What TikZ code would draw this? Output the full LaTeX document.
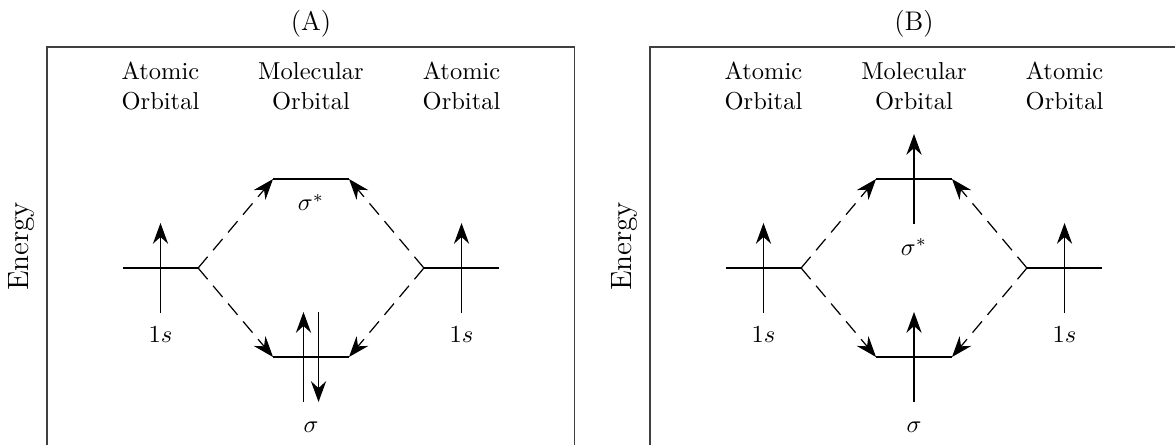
\documentclass[tikz,border=0pt]{standalone}
\usetikzlibrary{arrows.meta}

\begin{document}
\begin{tikzpicture}[
  % energy level (short horizontal bar)
  level/.style = {line width=0.5pt},
  % electron (spin arrow)
  spin/.style  = {line width=0.5pt,
                  -{Stealth[length=8.5pt, width=6.2pt, inset=2.8pt]}},
  % correlation line atomic -> molecular level
  link/.style  = {line width=0.5pt, dash pattern=on 6pt off 3.5pt,
                  -{Stealth[length=8.5pt, width=6.2pt, inset=2.8pt]}},
  % panel frame
  frame/.style = {draw=black!75, line width=0.6pt},
  % column heads and labels
  head/.style  = {align=center},
  lbl/.style   = {inner sep=1pt},
]

\path[use as bounding box] (-4.463,-2.526) rectangle (12.398,3.846);
\clip (-4.463,-2.526) rectangle (12.398,3.846);

% ──────────────────────────
%  Helper macro: frame, heads, levels and dashed links of one panel.
%  #1 = panel letter, #2 = height of the sigma* label
% ──────────
\newcommand{\orbitalpanel}[2]{%
  \draw[frame] (-3.79,-2.7) -- (-3.79,3.17) -- (3.78,3.17) -- (3.78,-2.7);
  \node[font=\fontsize{11}{13}\selectfont] (title#1) at (0,3.50) {(#1)};
  \node[rotate=90, font=\large] (energy#1) at (-4.15,0.31) {Energy};

  \node[head] (headL#1) at (-2.16,2.61) {Atomic\\Orbital};
  \node[head] (headM#1) at (0,2.61)     {Molecular\\Orbital};
  \node[head] (headR#1) at (2.16,2.61)  {Atomic\\Orbital};

  % level end points
  \coordinate (aoLa#1) at (-2.70,0);     \coordinate (aoLb#1) at (-1.62,0);
  \coordinate (aoRa#1) at (2.70,0);      \coordinate (aoRb#1) at (1.62,0);
  \coordinate (asLa#1) at (-0.545,1.277); \coordinate (asRa#1) at (0.545,1.277);
  \coordinate (bdLa#1) at (-0.545,-1.277); \coordinate (bdRa#1) at (0.545,-1.277);

  \draw[level] (aoLa#1) -- (aoLb#1);
  \draw[level] (aoRa#1) -- (aoRb#1);
  \draw[level] (asLa#1) -- (asRa#1);
  \draw[level] (bdLa#1) -- (bdRa#1);

  % dashed links
  \draw[link] (aoLb#1) -- (asLa#1);
  \draw[link] (aoLb#1) -- (bdLa#1);
  \draw[link] (aoRb#1) -- (asRa#1);
  \draw[link] (aoRb#1) -- (bdRa#1);

  % one electron on each atom
  \foreach \x in {-2.16,2.16}
    \draw[spin] (\x,-0.646) -- (\x,0.646);

  \node[lbl] (sL#1) at (-2.16,-0.96) {$1s$};
  \node[lbl] (sR#1) at (2.16,-0.96)  {$1s$};
  \node[lbl] (anti#1) at (0,#2)      {$\sigma^*$};
  \node[lbl] (bond#1) at (0,-2.28)   {$\sigma$};
}

% ═══════════════════
%  PANEL (A) – both electrons paired in sigma
% ═══════════
\begin{scope}
  \orbitalpanel{A}{0.94}
  \draw[spin] (-0.108,-1.923) -- (-0.108,-0.631);
  \draw[spin] (0.108,-0.631) -- (0.108,-1.923);
\end{scope}

% ═══════════════════
%  PANEL (B) – one electron in sigma, one in sigma*
% ═══════════
\begin{scope}[xshift=8.653cm]
  \orbitalpanel{B}{0.30}
  \draw[spin] (0,-1.923) -- (0,-0.631);
  \draw[spin] (0,0.631) -- (0,1.923);
\end{scope}

\end{tikzpicture}
\end{document}
